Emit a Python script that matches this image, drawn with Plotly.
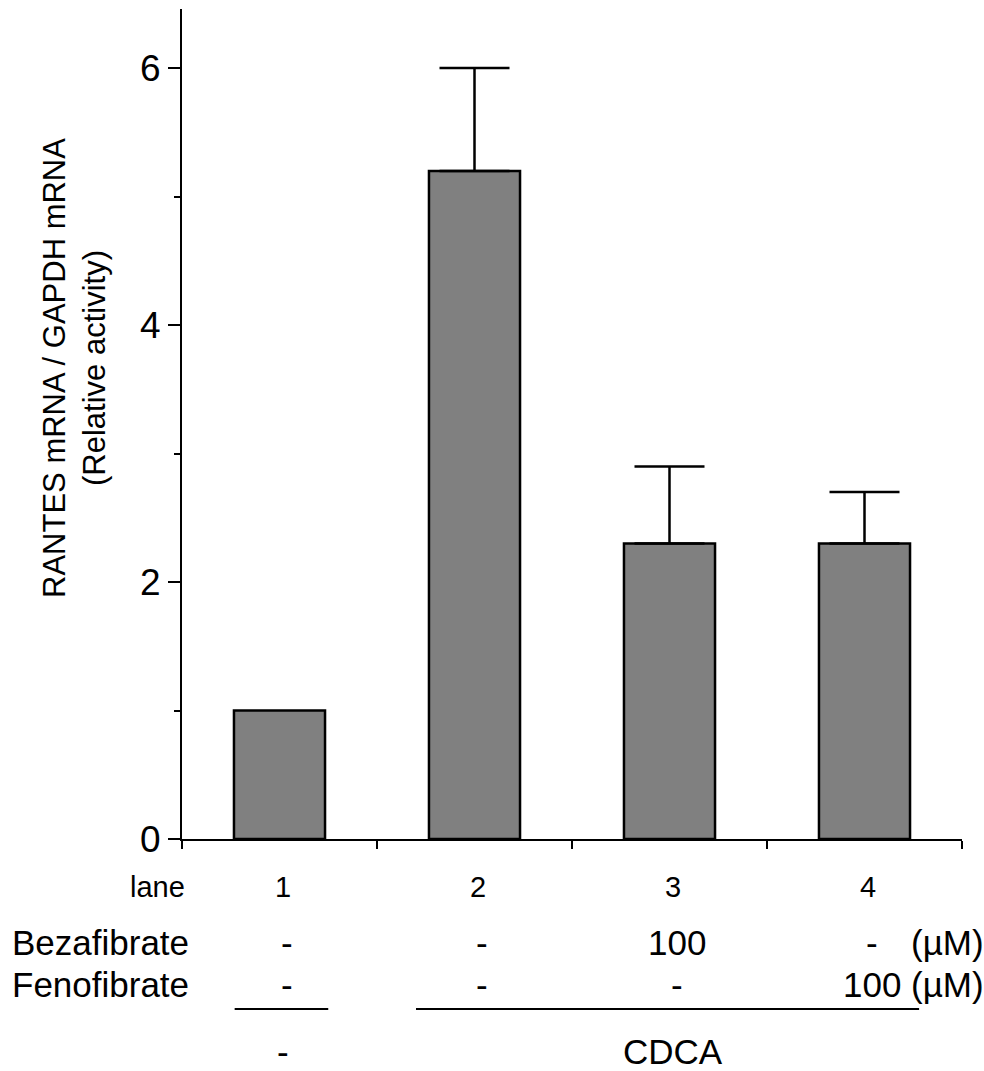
import plotly.graph_objects as go

# ---- data ----
lanes = [1, 2, 3, 4]
lane_labels = ["1", "2", "3", "4"]
values = [1.0, 5.2, 2.3, 2.3]
err_lanes = [2, 3, 4]
err_plus = [0.8, 0.6, 0.4]
bezafibrate = ["-", "-", "100", "-"]
fenofibrate = ["-", "-", "-", "100"]
unit_label = "(\u00b5M)"
group_labels = ["-", "CDCA"]
group_start = [1, 2]
group_end = [1, 4]
y_ticks = [0, 2, 4, 6]
y_minor = [1, 3, 5]

FONT = "Arial, 'Liberation Sans', Helvetica, sans-serif"
err_vals = [values[l - 1] for l in err_lanes]

fig = go.Figure()
fig.add_trace(go.Bar(
    x=lanes, y=values, width=0.467,
    marker=dict(color="#808080", line=dict(color="black", width=2.5)),
    showlegend=False, hoverinfo="skip",
))
fig.add_trace(go.Scatter(
    x=err_lanes, y=err_vals, mode="markers",
    marker=dict(size=1, color="rgba(0,0,0,0)"),
    error_y=dict(type="data", array=err_plus, arrayminus=[0] * len(err_lanes),
                 symmetric=False, color="black", thickness=2.5, width=35),
    showlegend=False, hoverinfo="skip",
))

fig.update_layout(
    width=984, height=1071,
    margin=dict(l=182, r=22, t=9, b=232),
    paper_bgcolor="white", plot_bgcolor="white",
    font=dict(family=FONT, color="black"),
    xaxis=dict(range=[0.5, 4.5], tickvals=[0.5, 1.5, 2.5, 3.5, 4.5],
               showticklabels=False, ticks="outside", ticklen=8, tickwidth=2,
               tickcolor="black", showline=True, linecolor="black", linewidth=2,
               showgrid=False, zeroline=False, fixedrange=True),
    yaxis=dict(range=[0, 6.46], tickvals=y_ticks, ticks="outside", ticklen=12,
               tickwidth=2, tickcolor="black", tickfont=dict(size=37, color="black"),
               minor=dict(tickvals=y_minor, ticks="outside", ticklen=6, tickwidth=2,
                          tickcolor="black"),
               showline=True, linecolor="black", linewidth=2,
               showgrid=False, zeroline=False, fixedrange=True),
)

ann = []
# y axis title
ann.append(dict(text="RANTES mRNA / GAPDH mRNA<br>(Relative activity)",
                x=-0.1372, y=0.5675, xref="paper", yref="paper",
                textangle=-90, showarrow=False, xanchor="center", yanchor="middle",
                font=dict(size=31)))
# lane row
y_lane, y_beza, y_feno, y_line, y_group = -0.0578, -0.1253, -0.1759, -0.2048, -0.2566
ann.append(dict(text="lane", x=0.0064, y=y_lane, xref="paper", yref="paper",
                showarrow=False, xanchor="right", yanchor="middle", font=dict(size=29)))
for l, t in zip(lanes, lane_labels):
    ann.append(dict(text=t, x=l, y=y_lane, xref="x", yref="paper", xshift=3,
                    showarrow=False, xanchor="center", yanchor="middle", font=dict(size=29)))
ann.append(dict(text="Bezafibrate", x=-0.2205, y=y_beza, xref="paper", yref="paper",
                showarrow=False, xanchor="left", yanchor="middle", font=dict(size=35)))
ann.append(dict(text="Fenofibrate", x=-0.2205, y=y_feno, xref="paper", yref="paper",
                showarrow=False, xanchor="left", yanchor="middle", font=dict(size=35)))
for l, b, f in zip(lanes, bezafibrate, fenofibrate):
    ann.append(dict(text=b, x=l, y=y_beza, xref="x", yref="paper", xshift=7,
                    showarrow=False, xanchor="center", yanchor="middle", font=dict(size=35)))
    ann.append(dict(text=f, x=l, y=y_feno, xref="x", yref="paper", xshift=7,
                    showarrow=False, xanchor="center", yanchor="middle", font=dict(size=35)))
for yy in (y_beza, y_feno):
    ann.append(dict(text=unit_label, x=4.226, y=yy, xref="x", yref="paper",
                    showarrow=False, xanchor="left", yanchor="middle", font=dict(size=35)))

shapes = []
pads = [(0.23, 0.25), (0.30, 0.28)]
for lbl, s, e, (pl, pr) in zip(group_labels, group_start, group_end, pads):
    shapes.append(dict(type="line", xref="x", yref="paper", x0=s - pl, x1=e + pr,
                       y0=y_line, y1=y_line, line=dict(color="black", width=2)))
    ann.append(dict(text=lbl, x=(s + e) / 2, y=y_group, xref="x", yref="paper", xshift=3,
                    showarrow=False, xanchor="center", yanchor="middle", font=dict(size=35)))

fig.update_layout(annotations=ann, shapes=shapes)
fig.write_html("out.html")
